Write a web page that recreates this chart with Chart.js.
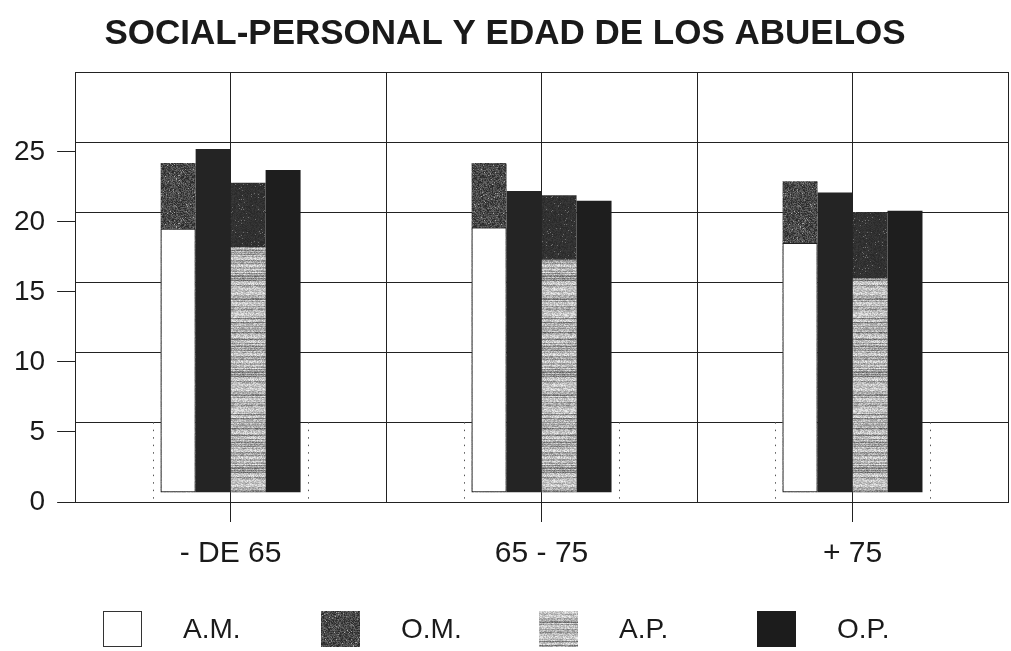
<!DOCTYPE html>
<html>
<head>
<meta charset="utf-8">
<title>Social-personal y edad de los abuelos</title>
<script src="https://cdn.jsdelivr.net/npm/chart.js@4.4.1/dist/chart.umd.min.js"></script>
<style>
  html, body { margin: 0; padding: 0; background: #fff; }
  #wrap { position: relative; width: 1011px; height: 651px; }
  #legend {
    position: absolute; left: 103px; top: 611px; height: 36px;
    display: flex; font-family: Arial, "Liberation Sans", sans-serif; font-size: 28px; color: #1a1a1a;
  }
  .legend-item { width: 218px; display: flex; align-items: center; }
  .legend-box { width: 39px; height: 36px; margin-right: 41px; box-sizing: border-box; }
</style>
</head>
<body>
<div id="wrap">
  <canvas id="chart" width="1011" height="651"></canvas>
  <div id="legend"></div>
</div>
<script>
// Data
const ageGroups = ['- DE 65', '65 - 75', '+ 75'];
const seriesNames = ['A.M.', 'O.M.', 'A.P.', 'O.P.'];
const amValues = [18.8, 18.9, 17.8];
const amUpper = [23.5, 23.5, 22.2];   // textured top of the A.M. bar
const omValues = [24.5, 21.5, 21.4];
const apValues = [17.5, 16.6, 15.3];
const apUpper = [22.1, 21.2, 20.0];   // dark top of the A.P. bar
const opValues = [23.0, 20.8, 20.1];
const yTicks = [0, 5, 10, 15, 20, 25];
const yMax = 30;

const FONT = 'Arial, "Liberation Sans", sans-serif';
const FLOOR = 0.7; // the back wall sits a little above the axis (3D look)

// small deterministic textures for the scanned look
function rng(seed) {
  return function () { seed = (seed * 16807) % 2147483647; return seed / 2147483647; };
}
function makeTexture(w, h, seed, shade) {
  const c = document.createElement('canvas');
  c.width = w; c.height = h;
  const g = c.getContext('2d');
  const img = g.createImageData(w, h);
  const r = rng(seed);
  const rows = [];
  for (let y = 0; y < h; y++) rows.push(r());
  for (let y = 0; y < h; y++) {
    for (let x = 0; x < w; x++) {
      const v = Math.max(0, Math.min(255, Math.round(shade(x, y, r, rows[y]))));
      const i = (y * w + x) * 4;
      img.data[i] = img.data[i + 1] = img.data[i + 2] = v;
      img.data[i + 3] = 255;
    }
  }
  g.putImageData(img, 0, 0);
  return c;
}
const omTexCanvas = makeTexture(48, 48, 11, (x, y, r) => 72 + (r() - 0.5) * 70 + (r() < 0.04 ? 70 : 0));
const apTexCanvas = makeTexture(48, 96, 23, (x, y, r, row) => 240 - row * row * 90 - r() * 65);
const darkTexCanvas = makeTexture(48, 48, 37, (x, y, r) => 40 + r() * 18 + (r() < 0.03 ? 60 : 0));

const ctx = document.getElementById('chart').getContext('2d');
const omTex = ctx.createPattern(omTexCanvas, 'repeat');
const apTex = ctx.createPattern(apTexCanvas, 'repeat');
const darkTex = ctx.createPattern(darkTexCanvas, 'repeat');

// category dividers and the dotted floor marks
const decorations = {
  id: 'decorations',
  beforeDatasetsDraw(chart) {
    const { ctx, chartArea: a, scales: { x, y } } = chart;
    ctx.save();
    ctx.strokeStyle = '#222';
    ctx.lineWidth = 1;
    for (let i = 0; i < ageGroups.length - 1; i++) {
      const bx = Math.round((x.getPixelForValue(i) + x.getPixelForValue(i + 1)) / 2) + 0.5;
      ctx.beginPath(); ctx.moveTo(bx, a.top); ctx.lineTo(bx, a.bottom); ctx.stroke();
    }
    const quarter = (x.getPixelForValue(1) - x.getPixelForValue(0)) / 4;
    ctx.strokeStyle = '#555';
    ctx.setLineDash([1.5, 6]);
    ageGroups.forEach((g, i) => {
      [-1, 1].forEach(side => {
        const dx = Math.round(x.getPixelForValue(i) + side * quarter) + 0.5;
        ctx.beginPath(); ctx.moveTo(dx, y.getPixelForValue(yTicks[1])); ctx.lineTo(dx, a.bottom); ctx.stroke();
      });
    });
    ctx.restore();
  }
};

new Chart(ctx, {
  type: 'bar',
  data: {
    labels: ageGroups,
    datasets: [
      { label: seriesNames[0], data: amValues, stack: 'am', yAxisID: 'y', backgroundColor: '#fff', borderColor: '#222', borderWidth: 1, borderSkipped: false },
      { label: seriesNames[1], data: omValues, stack: 'om', yAxisID: 'y', backgroundColor: '#242424' },
      { label: seriesNames[2], data: apValues, stack: 'ap', yAxisID: 'y', backgroundColor: apTex },
      { label: seriesNames[3], data: opValues, stack: 'op', yAxisID: 'y', backgroundColor: '#1e1e1e' },
      { label: seriesNames[0] + ' sup.', data: amUpper, stack: 'am', yAxisID: 'y', backgroundColor: omTex },
      { label: seriesNames[2] + ' sup.', data: apUpper, stack: 'ap', yAxisID: 'y', backgroundColor: darkTex }
    ]
  },
  options: {
    responsive: false,
    animation: false,
    datasets: { bar: { categoryPercentage: 0.45, barPercentage: 1 } },
    layout: { padding: { left: 2, right: 3, top: 0, bottom: 65 } },
    plugins: {
      legend: { display: false },
      tooltip: { enabled: false },
      title: {
        display: true,
        text: 'SOCIAL-PERSONAL Y EDAD DE LOS ABUELOS',
        color: '#1a1a1a',
        font: { family: FONT, size: 35, weight: 'bold' },
        padding: { top: 13, bottom: 17 }
      }
    },
    scales: {
      x: {
        stacked: true,
        offset: true,
        grid: { offset: false, color: '#222', tickLength: 20, tickColor: '#222' },
        border: { color: '#222' },
        ticks: { color: '#1a1a1a', font: { family: FONT, size: 30 }, padding: 14 }
      },
      y: {
        position: 'right',
        stacked: false,
        min: -FLOOR,
        max: yMax,
        afterBuildTicks: s => { s.ticks = yTicks.slice(1).concat(yMax).map(v => ({ value: v })); },
        grid: { color: '#222', drawTicks: false },
        border: { display: true, color: '#222' },
        ticks: { display: false }
      },
      yLabels: {
        position: 'left',
        min: 0,
        max: yMax + FLOOR,
        afterBuildTicks: s => { s.ticks = yTicks.map(v => ({ value: v })); },
        grid: { drawOnChartArea: false, tickLength: 18, color: '#222' },
        border: { color: '#222' },
        ticks: { color: '#1a1a1a', font: { family: FONT, size: 28 }, padding: 12 }
      }
    }
  },
  plugins: [decorations]
});

// HTML legend, same swatches as the bars
const swatches = [
  'background:#fff;border:1.5px solid #333;',
  'background:url(' + omTexCanvas.toDataURL() + ');',
  'background:url(' + apTexCanvas.toDataURL() + ');',
  'background:#1c1c1c;'
];
const legend = document.getElementById('legend');
seriesNames.forEach((name, i) => {
  const item = document.createElement('div');
  item.className = 'legend-item';
  item.innerHTML = `<div class="legend-box" style="${swatches[i]}"></div><span>${name}</span>`;
  legend.appendChild(item);
});
</script>
</body>
</html>
